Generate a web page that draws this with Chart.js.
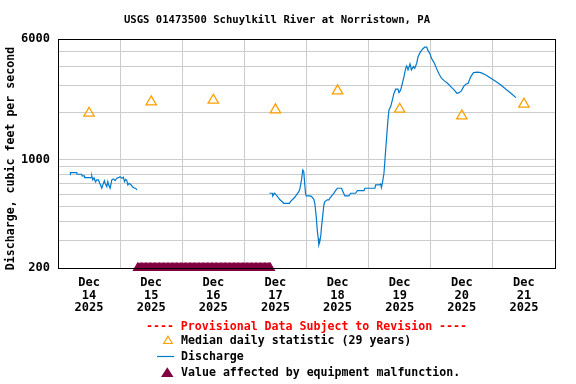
<!DOCTYPE html>
<html>
<head>
<meta charset="utf-8">
<script src="https://cdn.jsdelivr.net/npm/chart.js@4/dist/chart.umd.min.js"></script>
<style>html,body{margin:0;padding:0;background:#fff;}canvas{display:block;}</style>
</head>
<body>
<canvas id="c" width="576" height="384"></canvas>
<script>
// ---------- DATA (x = hours since Dec 14 2025 00:00) ----------
const chartTitle = 'USGS 01473500 Schuylkill River at Norristown, PA';
const yAxisTitle = 'Discharge, cubic feet per second';
const dayTickHours = [12, 36, 60, 84, 108, 132, 156, 180];
const dayLabels = [
  ['Dec','14','2025'], ['Dec','15','2025'], ['Dec','16','2025'], ['Dec','17','2025'],
  ['Dec','18','2025'], ['Dec','19','2025'], ['Dec','20','2025'], ['Dec','21','2025']
];
const midnightHours = [0, 24, 48, 72, 96, 120, 144, 168, 192];
const yGridValues = [200, 300, 400, 500, 600, 700, 800, 900, 1000, 2000, 3000, 4000, 5000, 6000];
const yLabelValues = [200, 1000, 6000];

const medianHours  = [12, 36, 60, 84, 108, 132, 156, 180];
const medianValues = [1993, 2356, 2417, 2093, 2775, 2115, 1914, 2278];

const dischargeHours = [
  0, 0.4, 2,
  4.65, 4.8, 7.24, 7.35, 9.17, 9.29, 10.18, 10.3, 12.97, 13.05,
  13.43, 13.94, 14.5, 14.98, 15.6, 16.26, 16.92, 17.3, 17.92, 18.19,
  18.85, 19.24, 19.47, 20.13, 20.79, 21.41, 22.06, 22.72, 23.34, 24,
  24.66, 25.28, 25.66, 26.2, 26.6, 26.98, 27.48, 28.26, 28.76, 29.54,
  30, 30.47, 56,
  81.68, 82.84, 82.95, 83.61, 84.27, 85.04, 85.55, 86.32, 87.21, 89.42,
  89.81, 90.7, 91.47, 92.4, 93.02, 93.41, 94.07, 94.57, 94.95, 95.34,
  95.61, 95.88, 97.55, 98.2, 98.83, 99.21, 99.76, 100.14, 100.53, 100.76,
  101.15, 101.54, 101.81, 102.31, 102.7, 103.09, 104.01, 104.63, 105.29, 106.57,
  107.23, 107.89, 109.55, 110.05, 110.83, 112.38, 113.03, 114.97, 115.63, 118.18,
  118.57, 122.44, 122.71, 123.99, 124.65, 124.92, 125.31, 125.93, 126.58, 126.97,
  127.47, 127.86, 128.52, 129.18, 129.8, 130.45, 131.34, 131.73, 132.39, 133.05,
  133.67, 134.32, 134.71, 135.21, 135.99, 136.53, 137.31, 137.81, 138.58, 139.09,
  139.86, 140.79, 141.68, 142.45, 142.96, 143.73, 144.27, 145.28, 145.94, 146.59,
  147.21, 148.14, 149.15, 150.47, 151.74, 153.02, 154.07, 154.96, 155.89, 156.66,
  157.55, 158.44, 159.49, 160.53, 162.08, 163.36, 165.29, 167.23, 169.16, 171.1,
  173.03, 174.97, 176.91
];
const dischargeValues = [
  759, 759, null,
  800, 824, 824, 805, 805, 785, 785, 765, 765, 785,
  740, 762, 718, 740, 740, 697, 654, 687, 732, 704,
  669, 721, 697, 654, 740, 751, 732, 759, 765, 777,
  759, 770, 721, 747, 732, 687, 704, 687, 669, 654,
  654, 637, null,
  607, 607, 583, 607, 592, 572, 555, 541, 523, 523,
  536, 555, 572, 601, 622, 644, 740, 858, 837, 687,
  607, 583, 583, 572, 555, 523, 429, 352, 311, 282,
  296, 327, 370, 440, 510, 536, 550, 550, 572, 607,
  631, 654, 654, 622, 583, 583, 607, 607, 631, 631,
  654, 654, 687, 687, 697, 660, 704, 817, 1155, 1407,
  1804, 2093, 2198, 2428, 2682, 2846, 2846, 2706, 2817, 3111,
  3432, 3888, 4022, 3790, 4143, 3790, 3981, 3888, 4187, 4618,
  4901, 5156, 5311, 5311, 5049, 4808, 4511, 4225, 3981, 3751,
  3572, 3351, 3234, 3111, 2958, 2817, 2682, 2706, 2788, 2958,
  3065, 3111, 3432, 3641, 3663, 3641, 3520, 3351, 3186, 3033,
  2846, 2682, 2512
];

const malfunctionHours = [
  30.75, 31.25, 31.75, 32.25, 32.75, 33.25, 33.75, 34.25, 34.75, 35.25, 35.75, 36.25,
  36.75, 37.25, 37.75, 38.25, 38.75, 39.25, 39.75, 40.25, 40.75, 41.25, 41.75, 42.25,
  42.75, 43.25, 43.75, 44.25, 44.75, 45.25, 45.75, 46.25, 46.75, 47.25, 47.75, 48.25,
  48.75, 49.25, 49.75, 50.25, 50.75, 51.25, 51.75, 52.25, 52.75, 53.25, 53.75, 54.25,
  54.75, 55.25, 55.75, 56.25, 56.75, 57.25, 57.75, 58.25, 58.75, 59.25, 59.75, 60.25,
  60.75, 61.25, 61.75, 62.25, 62.75, 63.25, 63.75, 64.25, 64.75, 65.25, 65.75, 66.25,
  66.75, 67.25, 67.75, 68.25, 68.75, 69.25, 69.75, 70.25, 70.75, 71.25, 71.75, 72.25,
  72.75, 73.25, 73.75, 74.25, 74.75, 75.25, 75.75, 76.25, 76.75, 77.25, 77.75, 78.25,
  78.75, 79.25, 79.75, 80.25, 80.75, 81.25, 81.75, 82
];
const malfunctionLevel = 200;

const legendHeader = '---- Provisional Data Subject to Revision ----';
const legendMedian = 'Median daily statistic (29 years)';
const legendDischarge = 'Discharge';
const legendMalfunction = 'Value affected by equipment malfunction.';

// ---------- STYLE ----------
const MONO = '"DejaVu Sans Mono", "Liberation Mono", monospace';
const C_LINE = 'rgb(0,122,204)';
const C_MED = 'rgb(255,160,0)';
const C_MAL = 'rgb(128,0,64)';
const C_GRID = '#cccccc';

const dischargePts = dischargeHours.map((h, i) => ({x: h, y: dischargeValues[i]}));
const medianPts = medianHours.map((h, i) => ({x: h, y: medianValues[i]}));
const malPts = malfunctionHours.map(h => ({x: h, y: malfunctionLevel}));

const decor = {
  id: 'decor',
  afterDatasetsDraw(chart) {
    const ctx = chart.ctx, a = chart.chartArea;
    ctx.save();
    ctx.strokeStyle = '#000';
    ctx.lineWidth = 1;
    ctx.strokeRect(Math.round(a.left) + 0.5, Math.round(a.top) + 0.5,
                   Math.round(a.right - a.left) - 0, Math.round(a.bottom - a.top) - 0);
    ctx.restore();
  },
  afterDraw(chart) {
    const ctx = chart.ctx, a = chart.chartArea;
    ctx.save();
    ctx.fillStyle = '#000';
    ctx.textBaseline = 'middle';
    // title
    ctx.font = 'bold 10.6px ' + MONO;
    ctx.textAlign = 'center';
    ctx.fillText(chartTitle, 277, 20);
    // y title
    ctx.save();
    ctx.translate(11, 158.5);
    ctx.rotate(-Math.PI / 2);
    ctx.font = 'bold 11.6px ' + MONO;
    ctx.fillText(yAxisTitle, 0, 0);
    ctx.restore();
    // legend
    ctx.font = 'bold 11.6px ' + MONO;
    ctx.fillStyle = '#ff0000';
    ctx.textAlign = 'center';
    ctx.fillText(legendHeader, (a.left + a.right) / 2, 327);
    ctx.fillStyle = '#000';
    ctx.textAlign = 'left';
    ctx.fillText(legendMedian, 181, 341);
    ctx.fillText(legendDischarge, 181, 357);
    ctx.fillText(legendMalfunction, 181, 373);
    // symbols
    ctx.strokeStyle = C_MED; ctx.lineWidth = 1.2;
    ctx.beginPath();
    ctx.moveTo(168, 336.2); ctx.lineTo(172.3, 343.5); ctx.lineTo(163.7, 343.5); ctx.closePath();
    ctx.stroke();
    ctx.strokeStyle = C_LINE; ctx.lineWidth = 1.2;
    ctx.beginPath(); ctx.moveTo(157, 356.5); ctx.lineTo(174, 356.5); ctx.stroke();
    ctx.fillStyle = C_MAL;
    ctx.beginPath();
    ctx.moveTo(167.3, 367.3); ctx.lineTo(173.5, 377); ctx.lineTo(161, 377); ctx.closePath();
    ctx.fill();
    ctx.restore();
  }
};

new Chart(document.getElementById('c'), {
  type: 'scatter',
  data: {
    datasets: [
      {
        label: 'Discharge', data: dischargePts, showLine: true, spanGaps: false,
        borderColor: C_LINE, borderWidth: 1.2, pointRadius: 0, tension: 0, order: 2
      },
      {
        label: 'Median', data: medianPts, showLine: false,
        pointStyle: 'triangle', pointRadius: 6, borderColor: C_MED, borderWidth: 1.3,
        backgroundColor: 'rgba(0,0,0,0)', order: 1
      },
      {
        label: 'Malfunction', data: malPts, showLine: false, clip: false,
        pointStyle: 'triangle', pointRadius: 6, borderWidth: 0,
        backgroundColor: C_MAL, borderColor: C_MAL, order: 0
      }
    ]
  },
  options: {
    responsive: false, animation: false, devicePixelRatio: 1,
    layout: {padding: {left: 0, right: 21, top: 39, bottom: 0}},
    plugins: {legend: {display: false}, title: {display: false}, tooltip: {enabled: false}},
    events: [],
    scales: {
      x: {
        type: 'linear', min: 0, max: 192,
        afterBuildTicks(scale) {
          const all = midnightHours.concat(dayTickHours).sort((p, q) => p - q);
          scale.ticks = all.map(v => ({value: v}));
        },
        afterFit(scale) { scale.height = 384 - 268; },
        border: {display: false},
        grid: {
          drawTicks: false,
          color: c => (c.tick && midnightHours.includes(c.tick.value)) ? C_GRID : 'rgba(0,0,0,0)',
          lineWidth: 1
        },
        ticks: {
          autoSkip: false, maxRotation: 0, minRotation: 0, padding: 9,
          color: '#000',
          font: {family: MONO, weight: 'bold', size: 12, lineHeight: 1.04},
          callback: v => { const i = dayTickHours.indexOf(v); return i >= 0 ? dayLabels[i] : ''; }
        }
      },
      y: {
        type: 'logarithmic', min: 200, max: 6000,
        afterBuildTicks(scale) { scale.ticks = yGridValues.map(v => ({value: v})); },
        afterFit(scale) { scale.width = 58; },
        border: {display: false},
        grid: {drawTicks: false, color: C_GRID, lineWidth: 1},
        ticks: {
          autoSkip: false, padding: 8, color: '#000',
          font: {family: MONO, weight: 'bold', size: 12},
          callback: v => yLabelValues.includes(v) ? String(v) : ''
        }
      }
    }
  },
  plugins: [decor]
});
</script>
</body>
</html>
